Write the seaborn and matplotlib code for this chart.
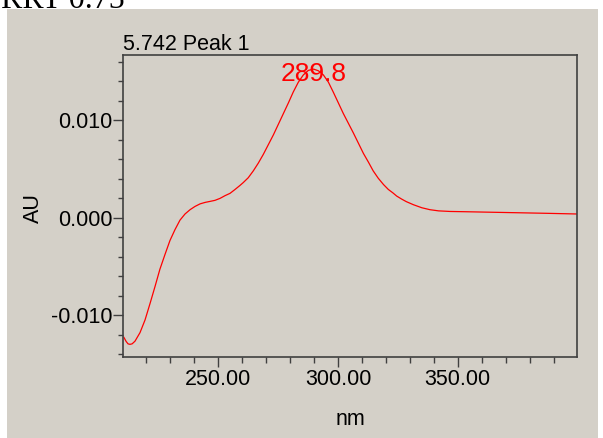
import matplotlib
matplotlib.use("Agg")
import matplotlib.pyplot as plt
from matplotlib.patches import Rectangle
from matplotlib.ticker import MultipleLocator, FormatStrFormatter, FixedLocator
import seaborn as sns
import pandas as pd

# ---- data ----
wavelength_nm = [210.5, 211.5, 212.3, 213.1, 214.0, 215.2, 217.3, 219.4, 221.5, 223.6,
                 225.6, 227.7, 229.8, 231.9, 234.0, 236.1, 238.2, 240.3, 242.4, 244.5,
                 246.5, 248.6, 250.7, 252.8, 254.9, 257.0, 259.0, 260.4, 262.5, 264.6,
                 266.7, 268.8, 270.9, 273.0, 275.1, 277.2, 279.3, 281.3, 283.4, 285.5,
                 287.6, 289.8, 291.8, 293.9, 296.0, 298.0, 300.1, 302.2, 304.3, 306.4,
                 308.5, 310.6, 312.7, 314.7, 316.8, 319.0, 321.0, 322.9, 324.5, 326.5,
                 328.5, 331.5, 335.0, 338.4, 342.0, 346.8, 353.7, 364.0, 374.6, 387.0,
                 399.8]
absorbance_au = [-0.01225, -0.0127, -0.01295, -0.0130, -0.01295, -0.01268, -0.0118, -0.0105, -0.0088, -0.00704,
                 -0.0053, -0.0038, -0.00235, -0.00123, -0.00025, 0.00038, 0.00082, 0.00116, 0.00142, 0.00157,
                 0.00167, 0.00178, 0.00198, 0.00226, 0.0025, 0.0029, 0.0033, 0.0036, 0.0041, 0.0048,
                 0.0056, 0.0065, 0.0075, 0.0085, 0.0096, 0.0107, 0.0118, 0.0129, 0.0139, 0.01465,
                 0.01512, 0.01525, 0.01508, 0.01465, 0.0139, 0.0129, 0.0118, 0.0107, 0.0097, 0.0087,
                 0.00765, 0.0066, 0.0057, 0.0048, 0.00405, 0.0034, 0.0029, 0.00255, 0.00222, 0.00192,
                 0.00165, 0.00133, 0.00102, 0.00082, 0.0007, 0.00064, 0.00061, 0.00056, 0.00051, 0.00045,
                 0.00038]
peak_nm = 289.8
peak_label = "289.8"
title_text = "5.742 Peak 1"
header_text = "RRT 0.75"
x_major = [250, 300, 350]
x_minor = [220, 230, 240, 260, 270, 280, 290, 310, 320, 330, 340, 360, 370, 380, 390]
y_major = [-0.010, 0.000, 0.010]

df = pd.DataFrame({"nm": wavelength_nm, "AU": absorbance_au})

# ---- style ----
sns.set_style("ticks")
plt.rcParams["font.family"] = ["Liberation Sans", "DejaVu Sans"]
plt.rcParams["axes.unicode_minus"] = False

W, H = 603, 438
BG = "#D4D0C8"
fig = plt.figure(figsize=(W / 100, H / 100), dpi=100)
fig.patch.set_facecolor("white")

# gray panel (behind the axes)
fig.patches.append(Rectangle((7 / W, 0), (598 - 7) / W, 1 - 9 / H,
                             transform=fig.transFigure, facecolor=BG,
                             edgecolor="none", zorder=-10))
# cut-off header text in white strip (cut off in the reference too)
fig.text(1 / W, 1 - 8 / H, header_text, family=["Liberation Serif", "DejaVu Serif"],
         fontsize=23, color="black", va="baseline", ha="left", zorder=1)

left, right, top, bottom = 123, 577, 55, 357
ax = fig.add_axes([left / W, 1 - bottom / H, (right - left) / W, (bottom - top) / H])
ax.set_zorder(1)
ax.set_facecolor(BG)

sns.lineplot(data=df, x="nm", y="AU", ax=ax, color="#FF0000", linewidth=0.9,
             sort=False, estimator=None)

ax.set_xlim(210.2, 399.8)
ax.set_ylim(-0.0143, 0.0167)

ax.xaxis.set_major_locator(FixedLocator(x_major))
ax.xaxis.set_minor_locator(FixedLocator(x_minor))
ax.xaxis.set_major_formatter(FormatStrFormatter("%.2f"))
ax.yaxis.set_major_locator(FixedLocator(y_major))
ax.yaxis.set_minor_locator(MultipleLocator(0.002))
ax.yaxis.set_major_formatter(FormatStrFormatter("%.3f"))

spine_col = "#404040"
for s in ax.spines.values():
    s.set_visible(True)
    s.set_color(spine_col)
    s.set_linewidth(1.2)

ax.tick_params(axis="both", which="major", direction="out", length=7.2, width=1.0,
               color=spine_col, labelsize=15.5, labelcolor="black", pad=1.5)
ax.tick_params(axis="x", which="minor", direction="out", length=4.3, width=1.0, color=spine_col)
ax.tick_params(axis="y", which="minor", direction="out", length=3.6, width=1.0, color=spine_col)
ax.tick_params(axis="y", which="major", pad=0.5)

ax.set_xlabel("nm", fontsize=15.5, color="black")
ax.set_ylabel("AU", fontsize=15.5, color="black")
ax.xaxis.label.set_va("baseline")
ax.yaxis.label.set_va("baseline")
ax.xaxis.set_label_coords(0.5, (bottom - 425) / (bottom - top))
ax.yaxis.set_label_coords((39 - left) / (right - left), (bottom - 208) / (bottom - top))

# peak annotation
ax.text(peak_nm, 0.0140, peak_label, color="#FF0000", fontsize=19,
        ha="center", va="baseline")

# title above plot, left aligned at axis
fig.text(left / W, 1 - 50 / H, title_text, fontsize=15.5, color="black",
         ha="left", va="baseline")

fig.savefig("out.png", dpi=100, facecolor=fig.get_facecolor())
